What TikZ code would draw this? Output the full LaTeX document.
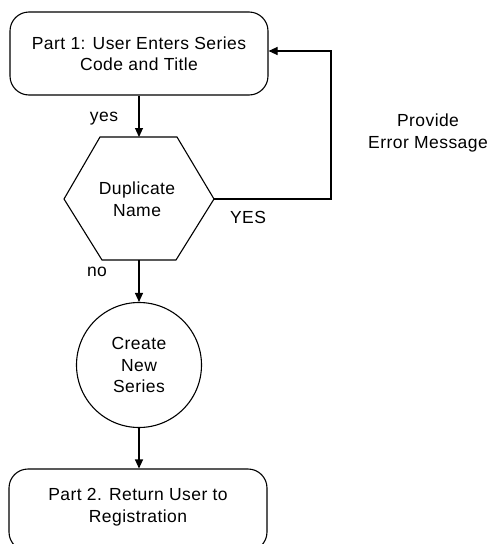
\documentclass[tikz,border=0pt]{standalone}
\usepackage{fontspec}
\setmainfont{Liberation Sans}[LetterSpace=2.5]
\usetikzlibrary{arrows.meta}
\begin{document}
\begin{tikzpicture}[x=1pt,y=-1pt,
  every node/.style={font=\fontsize{17.5}{21.5}\selectfont, align=center, inner sep=0pt},
  line/.style={line width=1.1pt},
  arr/.style={line, -{Triangle[length=9pt,width=8pt]}},
  boxnode/.style={draw, line width=1.1pt, rounded corners=19pt, minimum width=258pt},
  lbl/.style={font=\fontsize{17.5}{21.5}\selectfont}
]
\useasboundingbox (0,0) rectangle (490,544);
\clip (0,0) rectangle (490,544);
% top box
\node[boxnode, minimum height=83pt] (top) at (139,53.5) {Part 1: User Enters Series\\Code and Title};
% hexagon
\coordinate (hexT) at (139,137);
\coordinate (hexR) at (214,199);
\coordinate (hexB) at (139,260);
\draw[line, line join=miter] (100,137) -- (177,137) -- (hexR) -- (176,260) -- (102,260) -- (64,199) -- cycle;
\node (dup) at (137,199) {Duplicate\\Name};
% circle
\node[draw, circle, line width=1.1pt, minimum size=125pt] (new) at (139,365) {Create\\New\\Series};
% bottom box
\node[boxnode, minimum height=82pt] (bot) at (138,510) {};
\node (bottxt) at (138,507) {Part 2. Return User to\\Registration};
% connectors
\draw[arr] (top.south -| hexT) -- (hexT);
\draw[arr] (hexB) -- (new.north);
\draw[arr] (new.south) -- (new.south |- bot.north);
\coordinate (c1) at (331,199);
\coordinate (c2) at (331,51);
\draw[arr] (hexR) -- (c1) -- (c2) -- (top.east |- c2);
% labels
\node[lbl] (yes) at (104,119) {yes};
\node[lbl] (no) at (97,272) {no};
\node[lbl] (YES) at (248,217) {YES};
\node[lbl] (err) at (428,133) {Provide\\Error Message};
\end{tikzpicture}
\end{document}
